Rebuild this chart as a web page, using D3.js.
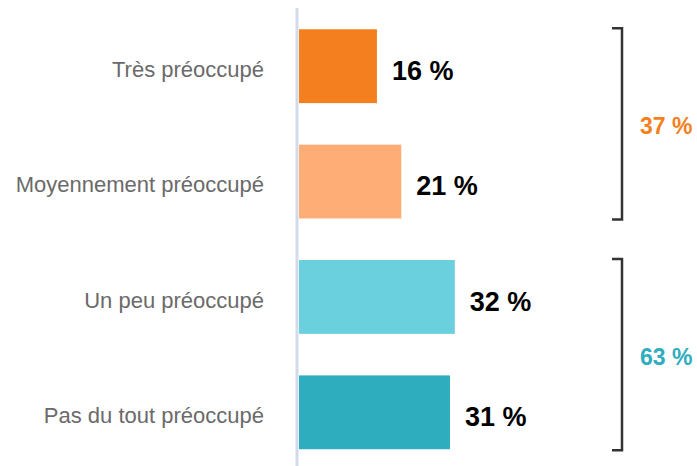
<!DOCTYPE html>
<meta charset="utf-8">
<style>
body { margin: 0; background: #fff; }
text { font-family: "Liberation Sans", Arial, sans-serif; }
.cat { fill: #6a6a6a; font-size: 22px; }
.val { fill: #000; font-size: 27px; font-weight: bold; }
.grp { font-size: 23px; font-weight: bold; }
</style>
<svg width="697" height="466"></svg>
<script src="https://cdn.jsdelivr.net/npm/d3@7"></script>
<script>

var categories = ["Très préoccupé", "Moyennement préoccupé", "Un peu préoccupé", "Pas du tout préoccupé"];
var values = [16, 21, 32, 31];
var colors = ["#f47f1e", "#ffad77", "#6bd0dd", "#2eadbe"];

var groups = [
  {label: "37 %", from: 0, to: 1, color: "#f47f1e"},
  {label: "63 %", from: 2, to: 3, color: "#2eadbe"}
];

var svg = d3.select("svg");

var x = d3.scaleLinear()
    .domain([0, 100])
    .range([299, 299 + 487]);

var y = d3.scaleBand()
    .domain(categories)
    .range([8.5, 470])
    .paddingInner(0.36)
    .paddingOuter(0.18);

// axis line
svg.append("line")
    .attr("x1", 297).attr("x2", 297)
    .attr("y1", 8).attr("y2", 466)
    .attr("stroke", "#d3dbea")
    .attr("stroke-width", 3);

var rows = svg.selectAll(".row")
    .data(categories)
    .enter().append("g")
    .attr("class", "row");

rows.append("rect")
    .attr("x", x(0))
    .attr("y", function(d) { return y(d); })
    .attr("width", function(d, i) { return x(values[i]) - x(0); })
    .attr("height", y.bandwidth())
    .attr("fill", function(d, i) { return colors[i]; });

rows.append("text")
    .attr("class", "cat")
    .attr("x", 264)
    .attr("y", function(d) { return y(d) + y.bandwidth() / 2 + 3; })
    .attr("dy", "0.35em")
    .attr("text-anchor", "end")
    .text(function(d) { return d; });

rows.append("text")
    .attr("class", "val")
    .attr("x", function(d, i) { return x(values[i]) + 15; })
    .attr("y", function(d) { return y(d) + y.bandwidth() / 2 + 4; })
    .attr("dy", "0.36em")
    .text(function(d, i) { return values[i] + " %"; });

// brackets
var bx = 622;
groups.forEach(function(g) {
  var top = y(categories[g.from]) - 1,
      bottom = y(categories[g.to]) + y.bandwidth() + 1;
  svg.append("path")
      .attr("d", "M" + (bx - 10) + "," + top + "H" + bx + "V" + bottom + "H" + (bx - 10))
      .attr("fill", "none")
      .attr("stroke", "#333")
      .attr("stroke-width", 2.5);
  svg.append("text")
      .attr("class", "grp")
      .attr("x", 640)
      .attr("y", (top + bottom) / 2 + 2)
      .attr("dy", "0.35em")
      .attr("fill", g.color)
      .text(g.label);
});

</script>
